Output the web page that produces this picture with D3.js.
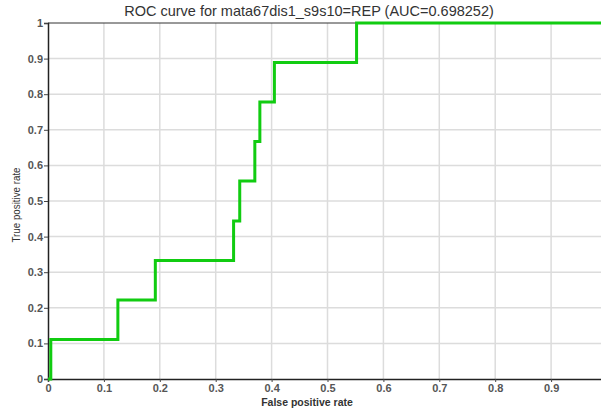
<!DOCTYPE html>
<html>
<head>
<meta charset="utf-8">
<script src="https://cdn.jsdelivr.net/npm/d3@7"></script>
<style>
body { margin: 0; background: #fff; }
text { font-family: "Liberation Sans", Arial, sans-serif; }
</style>
</head>
<body>
<script>
// ROC curve data: false positive rate / true positive rate
const fpr = [0, 0.005, 0.005, 0.125, 0.125, 0.192, 0.192, 0.332, 0.332, 0.343, 0.343, 0.370, 0.370, 0.379, 0.379, 0.405, 0.405, 0.552, 0.552, 1];
const tpr = [0, 0, 0.111, 0.111, 0.222, 0.222, 0.333, 0.333, 0.444, 0.444, 0.556, 0.556, 0.667, 0.667, 0.778, 0.778, 0.889, 0.889, 1, 1];
const xTicks = [0, 0.1, 0.2, 0.3, 0.4, 0.5, 0.6, 0.7, 0.8, 0.9];
const yTicks = [0, 0.1, 0.2, 0.3, 0.4, 0.5, 0.6, 0.7, 0.8, 0.9, 1];
const title = "ROC curve for mata67dis1_s9s10=REP (AUC=0.698252)";

const width = 601, height = 409;
const margin = {left: 48, top: 23, right: -6, bottom: 30};

let svg = d3.select("body").append("svg")
  .attr("width", width)
  .attr("height", height);

let x = d3.scaleLinear().domain([0, 1]).range([margin.left, width - margin.right]);
let y = d3.scaleLinear().domain([0, 1]).range([height - margin.bottom, margin.top]);

// grid
let grid = svg.append("g");
grid.selectAll(".gx").data(xTicks.filter(d => d > 0))
  .enter().append("line")
  .attr("x1", d => x(d)).attr("x2", d => x(d))
  .attr("y1", y(0)).attr("y2", y(1))
  .attr("stroke", "#dcdcdc").attr("stroke-width", 1.5);
grid.selectAll(".gy").data(yTicks.filter(d => d > 0 && d < 1))
  .enter().append("line")
  .attr("x1", x(0)).attr("x2", x(1))
  .attr("y1", d => y(d)).attr("y2", d => y(d))
  .attr("stroke", "#dcdcdc").attr("stroke-width", 1.5);

// frame
svg.append("line").attr("x1", x(0)).attr("x2", x(1)).attr("y1", y(1)).attr("y2", y(1))
  .attr("stroke", "#333").attr("stroke-width", 1);

// axes
let xAxis = svg.append("g")
  .attr("transform", `translate(0,${y(0)})`)
  .call(d3.axisBottom(x).tickValues(xTicks).tickFormat(d3.format("")).tickSize(3).tickPadding(2));
let yAxis = svg.append("g")
  .attr("transform", `translate(${x(0)},0)`)
  .call(d3.axisLeft(y).tickValues(yTicks).tickFormat(d3.format("")).tickSize(4).tickPadding(1));

[xAxis, yAxis].forEach(a => {
  a.select(".domain").attr("stroke", "#222").attr("stroke-width", 1.5);
  a.selectAll(".tick line").attr("stroke", "#444");
  a.selectAll(".tick text")
    .attr("fill", "#555")
    .attr("font-size", 11)
    .attr("font-weight", "bold")
    .attr("font-family", "Liberation Sans, Arial, sans-serif");
});

// curve
let line = d3.line().x((d, i) => x(fpr[i])).y((d, i) => y(tpr[i]));
svg.append("path")
  .datum(fpr)
  .attr("d", line)
  .attr("fill", "none")
  .attr("stroke", "#11cc11")
  .attr("stroke-width", 3);

// labels
svg.append("text")
  .attr("x", 309).attr("y", 16)
  .attr("text-anchor", "middle")
  .attr("font-size", 14.5)
  .attr("fill", "#333")
  .text(title);

svg.append("text")
  .attr("x", 307).attr("y", 406)
  .attr("text-anchor", "middle")
  .attr("font-size", 10.5)
  .attr("font-weight", "bold")
  .attr("fill", "#333")
  .text("False positive rate");

svg.append("text")
  .attr("transform", "translate(20,205) rotate(-90) scale(0.85,1)")
  .attr("text-anchor", "middle")
  .attr("font-size", 11.5)
  .attr("fill", "#333")
  .text("True positive rate");
</script>
</body>
</html>
